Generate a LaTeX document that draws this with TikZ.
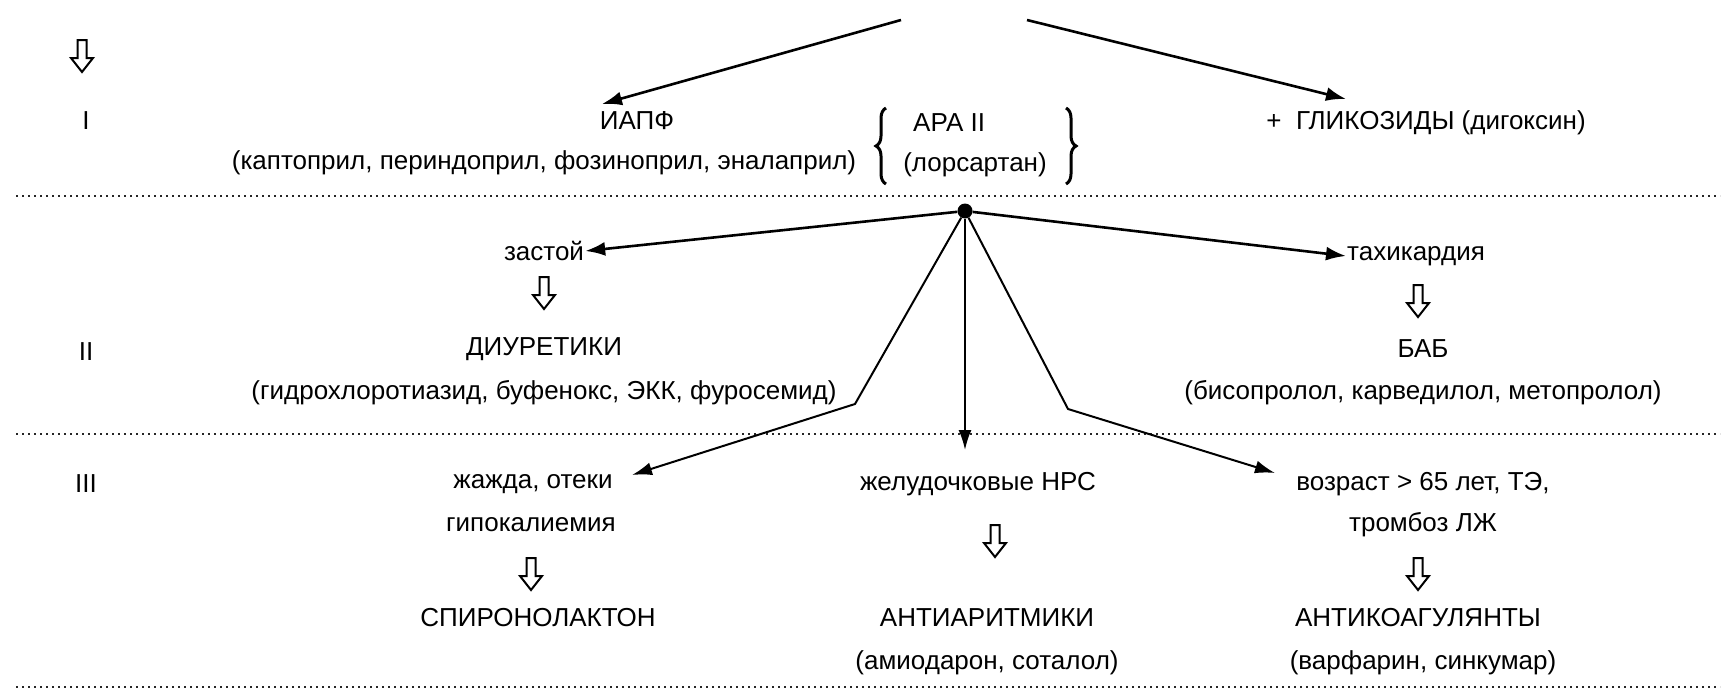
\documentclass[tikz,border=0pt]{standalone}
\usepackage{fontspec}
\setmainfont{Liberation Sans}
\usetikzlibrary{arrows.meta,decorations.pathreplacing,calc}
\begin{document}
\begin{tikzpicture}[x=1pt,y=-1pt,
  txt/.style={inner sep=1pt, font=\fontsize{26}{30}\selectfont},
  conn/.style={line width=2.6pt, -{Latex[length=20pt,width=14pt]}},
  connthin/.style={line width=2pt, -{Latex[length=20pt,width=13pt]}},
  sep/.style={line width=2.2pt, dash pattern=on 2pt off 4pt, black!85},
  pics/hollow/.style={code={\draw[line width=2pt, line join=miter, fill=white]
     (-4.5,-16) -- (4.5,-16) -- (4.5,2) -- (11,2) -- (0,16) -- (-11,2) -- (-4.5,2) -- cycle;}}
]
\useasboundingbox (0,0) rectangle (1723,696);

% separators
\draw[sep] (16,196) -- (1720,196);
\draw[sep] (16,434) -- (1720,434);
\draw[sep] (16,687) -- (1720,687);

% stage labels
\pic at (82,56) {hollow};
\node[txt] (s1) at (86,121) {I};
\node[txt] (s2) at (86,352) {II};
\node[txt] (s3) at (86,484) {III};

% level I
\coordinate (srcL) at (901,20);
\coordinate (srcR) at (1027,20);
\node[txt] (iapf) at (637,121) {ИАПФ};
\node[txt] (iapfd) at (544,163) {(каптоприл, периндоприл, фозиноприл, эналаприл)};
\node[txt, anchor=west] (ara) at (912,123) {АРА II};
\node[txt] (arad) at (975,165) {(лорсартан)};
\draw[decorate, decoration={brace, amplitude=10pt}, line width=3pt] (886,184) -- (886,108);
\draw[decorate, decoration={brace, amplitude=10pt}, line width=3pt] (1066,108) -- (1066,184);
\node[txt] (glik) at (1426,123) {+\ \ ГЛИКОЗИДЫ (дигоксин)};
\coordinate (iapfT) at (602,104);
\coordinate (glikT) at (1346,99);
\draw[conn] (srcL) -- (iapfT);
\draw[conn] (srcR) -- (glikT);

% hub
\node[circle, fill=black, inner sep=0pt, minimum size=15pt] (hub) at (965,211) {};

% level II
\node[txt] (zast) at (544,251) {застой};
\node[txt, anchor=west] (tach) at (1346,256) {тахикардия};
\pic at (544,293) {hollow};
\pic at (1418,301) {hollow};
\node[txt] (diur) at (544,349) {ДИУРЕТИКИ};
\node[txt] (diurd) at (544,393) {(гидрохлоротиазид, буфенокс, ЭКК, фуросемид)};
\node[txt] (bab) at (1423,349) {БАБ};
\node[txt] (babd) at (1423,393) {(бисопролол, карведилол, метопролол)};
\draw[conn] (hub) -- (zast.east);
\draw[conn] (hub) -- (tach.west);

% level III
\node[txt] (zh1) at (533,484) {жажда, отеки};
\node[txt] (zh2) at (531,525) {гипокалиемия};
\pic at (531,574) {hollow};
\node[txt] (spir) at (538,618) {СПИРОНОЛАКТОН};

\node[txt] (nrs) at (978,484) {желудочковые НРС};
\pic at (995,541) {hollow};
\node[txt] (anti) at (987,618) {АНТИАРИТМИКИ};
\node[txt] (antid) at (987,663) {(амиодарон, соталол)};

\node[txt] (voz) at (1423,484) {возраст > 65 лет, ТЭ,};
\node[txt] (tromb) at (1423,525) {тромбоз ЛЖ};
\pic at (1418,574) {hollow};
\node[txt] (koag) at (1418,618) {АНТИКОАГУЛЯНТЫ};
\node[txt] (koagd) at (1423,663) {(варфарин, синкумар)};

\coordinate (bendL) at (855,404);
\coordinate (bendR) at (1068,409);
\coordinate (vertT) at (965,450);
\coordinate (zhT) at (632,475);
\coordinate (vozT) at (1275,473);
\draw[connthin] (hub) -- (bendL) -- (zhT);
\draw[connthin] (hub) -- (vertT);
\draw[connthin] (hub) -- (bendR) -- (vozT);
\end{tikzpicture}
\end{document}
